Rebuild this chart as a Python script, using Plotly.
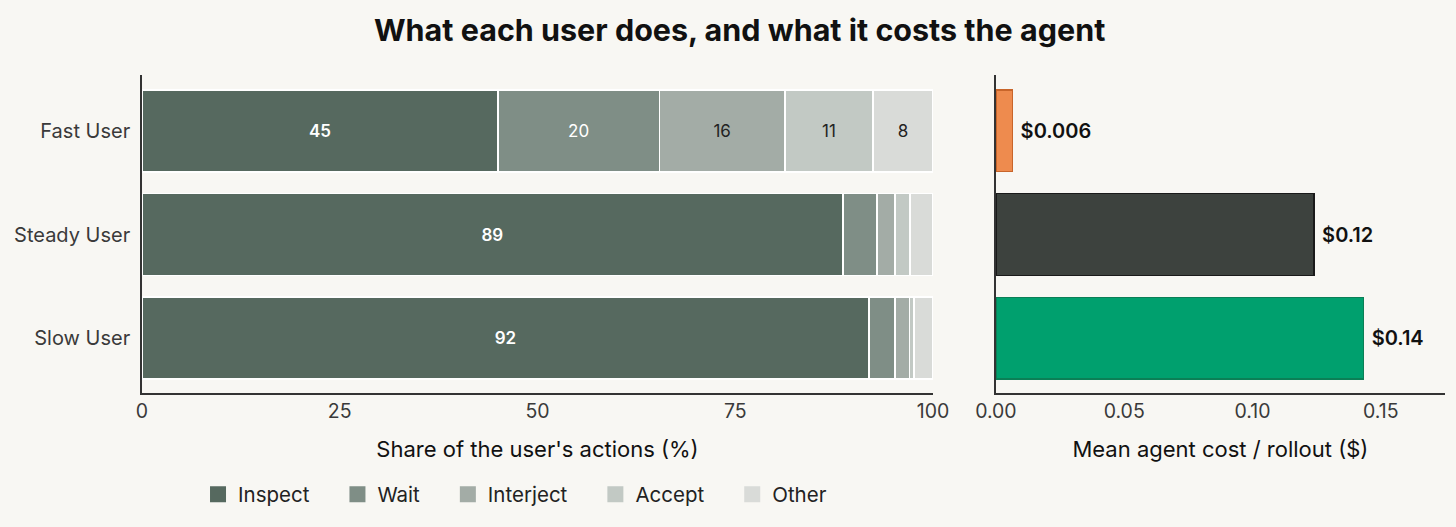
import plotly.graph_objects as go

# data
users = ["Fast User", "Steady User", "Slow User"]
actions = ["Inspect", "Wait", "Interject", "Accept", "Other"]
inspect = [45.0, 88.6, 91.9]
wait = [20.4, 4.3, 3.3]
interject = [15.9, 2.3, 1.8]
accept = [11.1, 1.9, 0.6]
other = [7.6, 2.9, 2.4]
cost = [0.0065, 0.124, 0.1433]
cost_labels = ["$0.006", "$0.12", "$0.14"]
x_ticks = [0, 25, 50, 75, 100]
cost_ticks = [0.0, 0.05, 0.10, 0.15]

shares = [inspect, wait, interject, accept, other]
seg_colors = ["#56695F", "#7F8E86", "#A3ACA6", "#C2C9C4", "#D9DBD8"]
seg_text = ["#FFFFFF", "#FFFFFF", "#222222", "#222222", "#222222"]
seg_weight = [600, 400, 400, 400, 400]
cost_colors = ["#EE8B4E", "#3D423E", "#00A06E"]
cost_lines = ["#C8652A", "#1A1A1A", "#0B7F56"]

BG = "#F8F7F3"
FONT = "Inter"
PAD = "\u00a0" * 4  # widen spacing between legend entries

fig = go.Figure()

for name, vals, col, tcol, wt in zip(actions, shares, seg_colors, seg_text, seg_weight):
    labels = [f"{v:.0f}" if v >= 5 else "" for v in vals]
    fig.add_trace(go.Bar(
        y=users, x=vals, name=name, orientation="h", showlegend=False,
        legendgroup=name,
        marker=dict(color=col, line=dict(color="white", width=1.5)),
        text=labels, textposition="inside", insidetextanchor="middle",
        textfont=dict(color=tcol, size=17, family=FONT, weight=wt),
        width=0.79, xaxis="x", yaxis="y", hoverinfo="x+name",
    ))
    # legend entry with a larger square swatch
    fig.add_trace(go.Scatter(
        x=[None], y=[None], mode="markers", name=name + PAD, legendgroup=name,
        marker=dict(symbol="square", size=22, color=col,
                    line=dict(color=col, width=0)),
        xaxis="x", yaxis="y",
    ))

fig.add_trace(go.Bar(
    y=users, x=cost, orientation="h", showlegend=False,
    marker=dict(color=cost_colors, line=dict(color=cost_lines, width=1.2)),
    text=[" " + t for t in cost_labels], textposition="outside", cliponaxis=False,
    textfont=dict(color="#111111", size=20, family=FONT, weight=600),
    width=0.79, xaxis="x2", yaxis="y2",
))

axis_line = dict(showline=True, linecolor="#333333", linewidth=1.5,
                 showgrid=False, zeroline=False, layer="below traces",
                 automargin=False)

fig.update_layout(
    width=1456, height=527,
    paper_bgcolor=BG, plot_bgcolor=BG,
    margin=dict(l=0, r=0, t=0, b=0, autoexpand=False),
    barmode="stack", bargap=0.21,
    font=dict(family=FONT, color="#333333", size=18),
    title=dict(text="<b>What each user does, and what it costs the agent</b>",
               x=0.508, xanchor="center", y=0.942, yanchor="middle",
               font=dict(size=30.5, color="#111111", family=FONT)),
    xaxis=dict(domain=[0.0975, 0.6408], range=[0, 100],
               tickvals=x_ticks, ticks="", ticklen=0,
               tickfont=dict(size=19.5, color="#3a3a3a"),
               title=dict(text="Share of the user's actions (%)",
                          font=dict(size=22, color="#111111"), standoff=19),
               **axis_line),
    yaxis=dict(domain=[0.2543, 0.8577], range=[2.53, -0.54],
               tickfont=dict(size=20, color="#3a3a3a"), ticks="",
               ticklabelstandoff=6, **axis_line),
    xaxis2=dict(domain=[0.684, 0.9924], range=[0, 0.175], anchor="y2",
                tickvals=cost_ticks, tickformat=".2f", ticks="",
                tickfont=dict(size=19.5, color="#3a3a3a"),
                title=dict(text="Mean agent cost / rollout ($)",
                           font=dict(size=22, color="#111111"), standoff=19),
                **axis_line),
    yaxis2=dict(domain=[0.2543, 0.8577], range=[2.53, -0.54], anchor="x2",
                showticklabels=False, ticks="", **axis_line),
    legend=dict(orientation="h", x=0.136, xanchor="left", y=0.062,
                yanchor="middle", bgcolor="rgba(0,0,0,0)",
                font=dict(size=20.5, color="#222222"),
                itemwidth=30, traceorder="normal", tracegroupgap=0),
)

fig.write_html("out.html", config={"displayModeBar": False},
               post_script="document.body.style.margin='0';")
